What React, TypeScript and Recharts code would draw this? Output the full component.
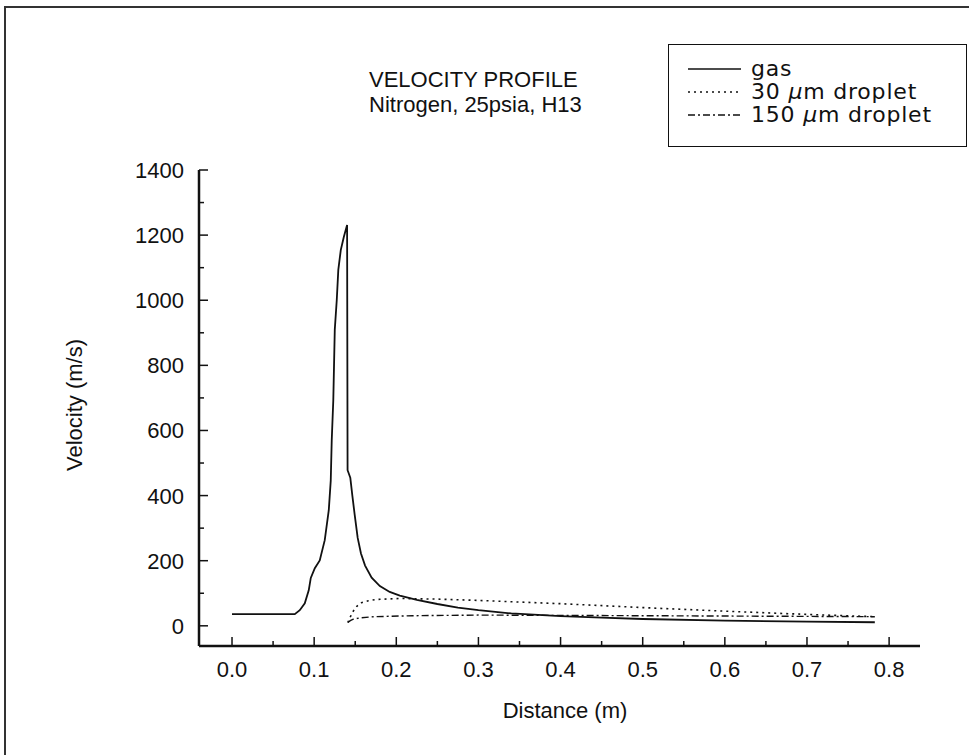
import React from 'react';
import { LineChart, Line, XAxis, YAxis, Legend } from 'recharts';

const FONT = "'Liberation Sans', Arial, sans-serif";
const WIDE_FONT = "'DejaVu Sans', 'Liberation Sans', sans-serif";

// Distance (m) / velocity (m/s)
const gasDistance = [0, 0.0764, 0.0825, 0.0886, 0.0934, 0.0959, 0.1008, 0.1068, 0.1129, 0.1178, 0.1202, 0.1214, 0.1233, 0.1251, 0.1275, 0.1294, 0.1324, 0.1361, 0.1401, 0.1407, 0.144, 0.1465, 0.1494, 0.153, 0.157, 0.162, 0.17, 0.18, 0.192, 0.2043, 0.225, 0.25, 0.275, 0.3, 0.34, 0.4, 0.45, 0.5, 0.6, 0.7, 0.7826];
const gasVelocity = [36, 36, 48, 69, 109, 147, 177, 201, 263, 355, 446, 570, 693, 909, 1000, 1093, 1154, 1194, 1231, 478, 455, 400, 340, 270, 222, 185, 148, 122, 104, 93, 80, 67, 56, 48, 38, 30, 25, 21, 16, 13, 11];

const drop30Distance = [0.141, 0.143, 0.147, 0.152, 0.1576, 0.166, 0.176, 0.204, 0.25, 0.3, 0.4, 0.5, 0.6, 0.7, 0.7826];
const drop30Velocity = [10, 22, 43, 60, 71, 77, 81, 84, 82, 78, 68, 56, 45, 35, 28];

const drop150Distance = [0.141, 0.144, 0.147, 0.155, 0.172, 0.22, 0.3, 0.4, 0.5, 0.6, 0.7, 0.7826];
const drop150Velocity = [10, 16, 20, 24, 28, 31, 33, 32, 31, 30, 29, 28];

const xMajorTicks = [0, 0.1, 0.2, 0.3, 0.4, 0.5, 0.6, 0.7, 0.8];
const xMinorTicks = [0.05, 0.15, 0.25, 0.35, 0.45, 0.55, 0.65, 0.75];
const yMajorTicks = [0, 200, 400, 600, 800, 1000, 1200, 1400];
const yMinorTicks = [100, 300, 500, 700, 900, 1100, 1300];

const toPoints = (xs: number[], vs: number[]) => xs.map((x, i) => ({ x, v: vs[i] }));
const gasData = toPoints(gasDistance, gasVelocity);
const drop30Data = toPoints(drop30Distance, drop30Velocity);
const drop150Data = toPoints(drop150Distance, drop150Velocity);

const xTicks = [...xMajorTicks, ...xMinorTicks].sort((a, b) => a - b);
const yTicks = [...yMajorTicks, ...yMinorTicks].sort((a, b) => a - b);

const isMajor = (list: number[], v: number) => list.some((m) => Math.abs(m - v) < 1e-9);

const XTick = (props: any) => {
  const { x, y, payload } = props;
  const v = payload.value as number;
  const major = isMajor(xMajorTicks, v);
  return (
    <g>
      <line x1={x} x2={x} y1={y} y2={y - (major ? 9 : 5)} stroke="#111" strokeWidth={1.5} />
      {major && (
        <text x={x} y={y + 31} textAnchor="middle" fontFamily={FONT} fontSize={22} fill="#111">
          {v.toFixed(1)}
        </text>
      )}
    </g>
  );
};

const YTick = (props: any) => {
  const { x, y, payload } = props;
  const v = payload.value as number;
  const major = isMajor(yMajorTicks, v);
  return (
    <g>
      <line x1={x} x2={x + (major ? 9 : 5)} y1={y} y2={y} stroke="#111" strokeWidth={1.5} />
      {major && (
        <text x={x - 15} y={y + 8} textAnchor="end" fontFamily={FONT} fontSize={22} fill="#111">
          {v}
        </text>
      )}
    </g>
  );
};

const legendItems = [
  { prefix: '', mu: false, label: 'gas', dash: undefined as string | undefined },
  { prefix: '30 ', mu: true, label: 'm droplet', dash: '2 4' },
  { prefix: '150 ', mu: true, label: 'm droplet', dash: '7 3 2 3' },
];

const LegendBox = () => (
  <div
    style={{
      boxSizing: 'border-box',
      width: 299,
      height: 103,
      border: '1.5px solid #111',
      background: '#fff',
      padding: '12px 0 0 19px',
      fontFamily: WIDE_FONT,
      fontSize: 22,
      letterSpacing: 0.8,
      color: '#111',
      lineHeight: '23px',
    }}
  >
    {legendItems.map((it, i) => (
      <div key={i} style={{ display: 'flex', alignItems: 'center', height: 23, whiteSpace: 'nowrap' }}>
        <svg width={54} height={10} style={{ marginRight: 9, flex: 'none' }}>
          <line x1={0} x2={53} y1={5} y2={5} stroke="#111" strokeWidth={1.5} strokeDasharray={it.dash} />
        </svg>
        <span>
          {it.prefix}
          {it.mu && <i>μ</i>}
          {it.label}
        </span>
      </div>
    ))}
  </div>
);

export default function App() {
  return (
    <div style={{ position: 'absolute', left: 0, top: 0, width: 969, height: 755, background: '#fff', overflow: 'hidden' }}>
      <div
        style={{
          position: 'absolute',
          left: 4,
          top: 6,
          width: 990,
          height: 780,
          borderLeft: '2px solid #333',
          borderTop: '2px solid #333',
        }}
      />
      <div
        style={{
          position: 'absolute',
          left: 369,
          top: 67,
          fontFamily: FONT,
          fontSize: 22,
          color: '#111',
          lineHeight: '25px',
          whiteSpace: 'nowrap',
        }}
      >
        <div>VELOCITY PROFILE</div>
        <div>Nitrogen, 25psia, H13</div>
      </div>
      <div
        style={{
          position: 'absolute',
          left: 565,
          top: 698,
          transform: 'translateX(-50%)',
          fontFamily: FONT,
          fontSize: 22,
          color: '#111',
          whiteSpace: 'nowrap',
        }}
      >
        Distance (m)
      </div>
      <div
        style={{
          position: 'absolute',
          left: 75,
          top: 405,
          transform: 'translate(-50%, -50%) rotate(-90deg)',
          fontFamily: FONT,
          fontSize: 22,
          color: '#111',
          whiteSpace: 'nowrap',
        }}
      >
        Velocity (m/s)
      </div>
      <LineChart
        width={969}
        height={755}
        margin={{ top: 170, right: 49, bottom: 69, left: 139 }}
        style={{ position: 'absolute', left: 0, top: 0 }}
      >
        <XAxis
          type="number"
          dataKey="x"
          domain={[-0.0402, 0.8376]}
          ticks={xTicks}
          interval={0}
          tickSize={0}
          tickMargin={0}
          tickLine={false}
          tick={<XTick />}
          height={40}
          axisLine={{ stroke: '#111', strokeWidth: 2.5 }}
          allowDataOverflow
        />
        <YAxis
          type="number"
          dataKey="v"
          domain={[-62, 1400]}
          ticks={yTicks}
          interval={0}
          tickSize={0}
          tickMargin={0}
          tickLine={false}
          tick={<YTick />}
          width={60}
          axisLine={{ stroke: '#111', strokeWidth: 2.5 }}
          allowDataOverflow
        />
        <Legend
          layout="horizontal"
          verticalAlign="middle"
          align="center"
          content={<LegendBox />}
          wrapperStyle={{ position: 'absolute', left: 668, top: 44, width: 299, height: 103 }}
        />
        <Line data={gasData} dataKey="v" type="linear" stroke="#111" strokeWidth={1.8} dot={false} isAnimationActive={false} />
        <Line data={drop30Data} dataKey="v" type="linear" stroke="#111" strokeWidth={1.6} strokeDasharray="2 4" dot={false} isAnimationActive={false} />
        <Line data={drop150Data} dataKey="v" type="linear" stroke="#111" strokeWidth={1.4} strokeDasharray="7 3 2 3" dot={false} isAnimationActive={false} />
      </LineChart>
    </div>
  );
}
